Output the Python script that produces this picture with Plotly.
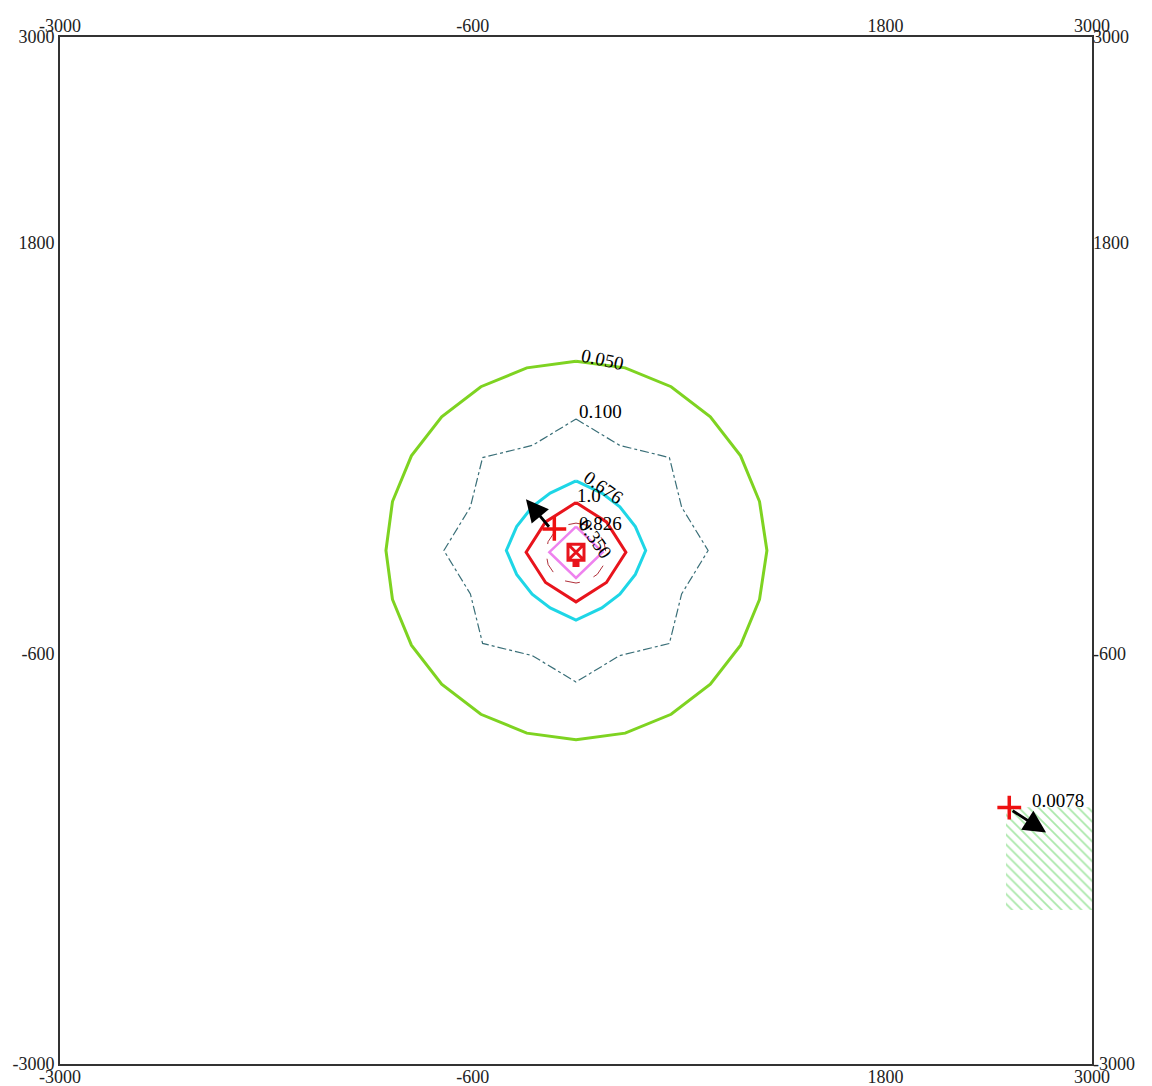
import plotly.graph_objects as go

# ---------------- data ----------------
TICKS = [-3000, -600, 1800, 3000]
TICK_TEXT = ["-3000", "-600", "1800", "3000"]

# contour 0.050 (green)
C050_X = [0, 286, 553, 781, 957, 1067, 1110, 1067, 957, 781, 553, 286, 0,
          -286, -553, -781, -957, -1067, -1105, -1067, -957, -781, -553, -286, 0]
C050_Y = [1105, 1067, 957, 781, 553, 286, 0, -286, -553, -781, -957, -1067, -1105,
          -1067, -957, -781, -553, -286, 0, 286, 553, 781, 957, 1067, 1105]
# contour 0.100 (dash-dot teal)
C100_X = [0, 254, 543, 614, 768, 614, 543, 254, 0, -254, -543, -614, -768, -614, -543, -254, 0]
C100_Y = [768, 614, 543, 254, 0, -254, -543, -614, -768, -614, -543, -254, 0, 254, 543, 614, 768]
# contour 0.676 (cyan)
C676_X = [0, 150, 255, 345, 405, 345, 255, 150, 0, -150, -255, -345, -405, -345, -255, -150, 0]
C676_Y = [407, 335, 255, 140, 0, -140, -255, -335, -407, -335, -255, -140, 0, 140, 255, 335, 407]
# contour 1.0 (red)
C10_X = [0, 177, 290, 177, 0, -177, -290, -177, 0]
C10_Y = [280, 167, -10, -187, -300, -187, -10, 167, 280]
# contour 0.826 (pink)
C826_X = [0, 155, 0, -155, 0]
C826_Y = [140, -10, -160, -10, 140]
# contour 0.350 (thin brown)
C350_X = [0, 67, 124, 162, 175, 162, 124, 67, 0, -67, -124, -162, -175, -162, -124, -67, 0]
C350_Y = [160, 147, 109, 52, -15, -82, -139, -177, -190, -177, -139, -82, -15, 52, 109, 147, 160]

# source and receptors
SOURCE_X, SOURCE_Y = [0], [-10]
STACK_X, STACK_Y = [0], [-76]
RECEPTOR_X = [-126, 2519]
RECEPTOR_Y = [126, -1502]

# hatched area
AREA_X = [2500, 3000, 3000, 2500, 2500]
AREA_Y = [-1500, -1500, -2100, -2100, -1500]

# arrows: (tail_x, tail_y, head_x, head_y)
ARROWS = [(-150, 130, -291, 300), (2530, -1515, 2733, -1647)]

# labels: (text, x, y, angle)
LABELS = [
    ("0.050", 155, 1114, 12),
    ("0.100", 145, 814, 0),
    ("0.676", 160, 368, 35),
    ("1.0", 77, 322, 0),
    ("0.826", 140, 155, 0),
    ("0.350", 116, 66, 55),
    ("0.0078", 2800, -1458, 0),
]

# ---------------- figure ----------------
fig = go.Figure()

fig.add_trace(go.Scatter(x=AREA_X, y=AREA_Y, mode="lines", fill="toself",
                         fillcolor="rgba(0,0,0,0)",
                         fillpattern=dict(shape="\\", fgcolor="#55d155", bgcolor="white",
                                          size=7, solidity=0.25),
                         line=dict(width=0), hoverinfo="skip"))

fig.add_trace(go.Scatter(x=C050_X, y=C050_Y, mode="lines",
                         line=dict(color="#7ed321", width=3)))
fig.add_trace(go.Scatter(x=C100_X, y=C100_Y, mode="lines",
                         line=dict(color="#3a6f78", width=1.2, dash="dashdot")))
fig.add_trace(go.Scatter(x=C676_X, y=C676_Y, mode="lines",
                         line=dict(color="#1ed6e6", width=3)))
fig.add_trace(go.Scatter(x=C10_X, y=C10_Y, mode="lines",
                         line=dict(color="#e8141c", width=3)))
fig.add_trace(go.Scatter(x=C350_X, y=C350_Y, mode="lines",
                         line=dict(color="#b0303a", width=1, dash="longdash")))
fig.add_trace(go.Scatter(x=C826_X, y=C826_Y, mode="lines",
                         line=dict(color="#ee82ee", width=2.5)))

fig.add_trace(go.Scatter(x=STACK_X, y=STACK_Y, mode="markers",
                         marker=dict(symbol="square", size=7, color="#e8141c")))
fig.add_trace(go.Scatter(x=SOURCE_X, y=SOURCE_Y, mode="markers",
                         marker=dict(symbol="square-x-open", size=16, color="#e8141c",
                                     line=dict(width=3, color="#e8141c"))))
fig.add_trace(go.Scatter(x=RECEPTOR_X, y=RECEPTOR_Y, mode="markers",
                         marker=dict(symbol="cross-thin", size=17,
                                     line=dict(width=3.5, color="#ee1111"))))

# invisible traces for secondary axes
fig.add_trace(go.Scatter(x=[TICKS[0]], y=[TICKS[0]], mode="markers", xaxis="x2", yaxis="y2",
                         marker=dict(opacity=0), hoverinfo="skip"))

for tx, ty, hx, hy in ARROWS:
    fig.add_annotation(x=hx, y=hy, ax=tx, ay=ty, xref="x", yref="y", axref="x", ayref="y",
                       text="", showarrow=True, arrowhead=2, arrowsize=1.6,
                       arrowwidth=2.8, arrowcolor="black")

for txt, x, y, ang in LABELS:
    fig.add_annotation(x=x, y=y, text=txt, showarrow=False, textangle=ang,
                       font=dict(family="Liberation Serif", size=19, color="black"))

tickfont = dict(family="Liberation Serif", size=18, color="#222")
axis_common = dict(range=[-3000, 3000], tickvals=TICKS, ticktext=TICK_TEXT,
                   showgrid=False, zeroline=False, ticks="", tickfont=tickfont,
                   automargin=False)

# page body adds an ~8px offset; sizes compensate so the frame lands at 60..1092 x 37..1064
fig.update_layout(
    width=1144, height=1078,
    margin=dict(l=52, r=60, t=29, b=22),
    paper_bgcolor="white", plot_bgcolor="white",
    showlegend=False,
    xaxis=dict(**axis_common, showline=True, mirror=True, linecolor="#333", linewidth=2,
               ticklabelstandoff=-5),
    yaxis=dict(**axis_common, showline=True, mirror=True, linecolor="#333", linewidth=2),
    xaxis2=dict(**axis_common, overlaying="x", side="top", showline=False),
    yaxis2=dict(**axis_common, overlaying="y", side="right", showline=False),
)

fig.write_html("out.html")
